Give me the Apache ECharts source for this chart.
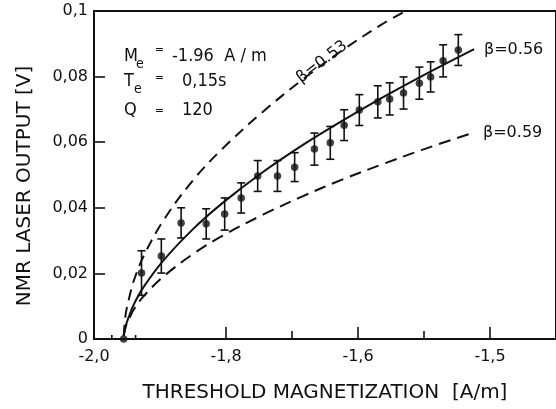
<!DOCTYPE html>
<html><head><meta charset="utf-8">
<script src="https://cdn.jsdelivr.net/npm/echarts@6/dist/echarts.min.js"></script>
<style>html,body{margin:0;padding:0;background:#fff}#c{width:556px;height:409px}</style>
</head><body><div id="c"></div>
<script>
// ---- measured data (threshold magnetization [A/m], NMR laser output [V]) ----
const magnetization = [-1.955,-1.928,-1.898,-1.868,-1.830,-1.802,-1.777,-1.752,-1.722,-1.696,-1.666,-1.642,-1.621,-1.598,-1.570,-1.552,-1.531,-1.507,-1.490,-1.471,-1.448];
const laserOutput   = [0.0000,0.0201,0.0253,0.0354,0.0351,0.0381,0.0430,0.0497,0.0497,0.0524,0.0579,0.0598,0.0652,0.0698,0.0723,0.0732,0.0750,0.0780,0.0799,0.0848,0.0881];
const outputErr     = [0,0.0068,0.0052,0.0046,0.0046,0.0049,0.0046,0.0047,0.0047,0.0044,0.0049,0.0050,0.0047,0.0047,0.0049,0.0049,0.0049,0.0049,0.0046,0.0049,0.0047];
const magnetizationErr = [0.018,0,0,0,0,0,0,0,0,0,0,0,0,0,0,0,0,0,0,0,0];

// ---- curves ----
const fitM    = [-1.955,-1.952,-1.947,-1.940,-1.925,-1.895,-1.850,-1.805,-1.744,-1.684,-1.624,-1.564,-1.504,-1.424];
const fit056  = [0.001,0.0040,0.0069,0.0104,0.0158,0.0239,0.0335,0.0415,0.0509,0.0591,0.0665,0.0735,0.0801,0.0884];
const upperM  = [-1.955,-1.952,-1.947,-1.940,-1.925,-1.895,-1.850,-1.805,-1.744,-1.684,-1.624,-1.564,-1.528];
const upper053= [0.001,0.0076,0.0123,0.0176,0.0252,0.0361,0.0484,0.0581,0.0693,0.0791,0.0880,0.0959,0.1000];
const lowerM  = [-1.955,-1.952,-1.947,-1.940,-1.925,-1.895,-1.850,-1.805,-1.744,-1.684,-1.624,-1.564,-1.504,-1.427];
const lower059= [0.001,0.0037,0.0060,0.0089,0.0130,0.0190,0.0259,0.0315,0.0379,0.0435,0.0486,0.0532,0.0576,0.0628];

// ---- ticks ----
const xLabelValues = [-2.0,-1.8,-1.6,-1.4];
const xLabels      = ['-2,0','-1,8','-1,6','-1,5'];
const xMajorTicks  = [-1.8,-1.6,-1.4];
const xMinorTicks  = [-1.7,-1.5];
const yLabelValues = [0,0.02,0.04,0.06,0.08,0.1];
const yLabels      = ['0','0,02','0,04','0,06','0,08','0,1'];
const yTicks       = [0.02,0.04,0.06,0.08];

const INK = '#111';
const TICKFONT = 'DejaVu Sans';
const NARROW = '"Liberation Sans Narrow","DejaVu Sans Condensed","DejaVu Sans",sans-serif';
const pick = (vals, labs) => v => { const i = vals.findIndex(t => Math.abs(t - v) < 1e-6); return i < 0 ? '' : labs[i]; };

const zip = (a, b) => a.map((v, i) => [v, b[i]]);
const errData = magnetization.map((m, i) => [m, laserOutput[i], outputErr[i], magnetizationErr[i]]);

function renderErr(params, api) {
  const x = api.value(0), y = api.value(1), e = api.value(2), xe = api.value(3);
  const st = { stroke: INK, lineWidth: 1.6, fill: null };
  const ch = [];
  if (e > 0) {
    const t = api.coord([x, y + e]), b = api.coord([x, y - e]);
    ch.push({ type: 'line', shape: { x1: t[0], y1: t[1], x2: b[0], y2: b[1] }, style: st });
    ch.push({ type: 'line', shape: { x1: t[0] - 4, y1: t[1], x2: t[0] + 4, y2: t[1] }, style: st });
    ch.push({ type: 'line', shape: { x1: b[0] - 4, y1: b[1], x2: b[0] + 4, y2: b[1] }, style: st });
  }
  if (xe > 0) {
    const l = api.coord([x - xe, y]), r = api.coord([x + xe, y]);
    ch.push({ type: 'line', shape: { x1: l[0], y1: l[1], x2: r[0], y2: r[1] }, style: st });
    ch.push({ type: 'line', shape: { x1: l[0], y1: l[1] - 4, x2: l[0], y2: l[1] + 1 }, style: st });
    ch.push({ type: 'line', shape: { x1: r[0], y1: r[1] - 4, x2: r[0], y2: r[1] + 1 }, style: st });
  }
  return { type: 'group', children: ch };
}

function txt(text, x, y, size, family, opts) {
  return Object.assign({
    type: 'text', x: x, y: y, silent: true,
    style: { text: text, fontSize: size, fontFamily: family, fill: INK,
             align: (opts && opts.align) || 'left', verticalAlign: 'middle' }
  }, opts && opts.rotation !== undefined ? { rotation: opts.rotation } : {});
}

const chart = echarts.init(document.getElementById('c'), null, { renderer: 'canvas' });
chart.setOption({
  animation: false,
  backgroundColor: '#fff',
  grid: { left: 94, top: 11, width: 466, height: 328, show: true, borderColor: INK, borderWidth: 2, backgroundColor: 'transparent' },
  xAxis: [{
    type: 'value', min: -2.0, max: -1.3, interval: 0.1,
    axisLine: { show: true, onZero: false, lineStyle: { color: INK, width: 2 } },
    splitLine: { show: false },
    axisTick: { show: true, inside: true, length: 12, customValues: xMajorTicks, lineStyle: { color: INK, width: 1.6 } },
    axisLabel: { show: true, customValues: xLabelValues, formatter: pick(xLabelValues, xLabels), color: INK, fontFamily: TICKFONT, fontSize: 16, margin: 10 }
  }, {
    type: 'value', min: -2.0, max: -1.3, interval: 0.1, position: 'bottom',
    axisLine: { show: false }, splitLine: { show: false }, axisLabel: { show: false },
    axisTick: { show: true, inside: true, length: 8, customValues: xMinorTicks, lineStyle: { color: INK, width: 1.6 } }
  }],
  yAxis: {
    type: 'value', min: 0, max: 0.1, interval: 0.02,
    axisLine: { show: true, onZero: false, lineStyle: { color: INK, width: 2 } },
    splitLine: { show: false },
    axisTick: { show: true, inside: true, length: 11, customValues: yTicks, lineStyle: { color: INK, width: 1.6 } },
    axisLabel: { show: true, customValues: yLabelValues, formatter: pick(yLabelValues, yLabels), color: INK, fontFamily: TICKFONT, fontSize: 16, margin: 6 }
  },
  series: [
    { type: 'line', data: zip(fitM, fit056), smooth: 0.35, showSymbol: false, lineStyle: { color: INK, width: 2 }, z: 3 },
    { type: 'line', data: zip(upperM, upper053), smooth: 0.35, showSymbol: false, lineStyle: { color: INK, width: 2, type: [11, 7] }, z: 3 },
    { type: 'line', data: zip(lowerM, lower059), smooth: 0.35, showSymbol: false, lineStyle: { color: INK, width: 2, type: [12, 7] }, z: 3 },
    { type: 'custom', data: errData, renderItem: renderErr, encode: { x: 0, y: 1 }, z: 4 },
    { type: 'scatter', data: zip(magnetization, laserOutput), symbol: 'circle', symbolSize: 7.5, itemStyle: { color: INK }, z: 5 }
  ],
  graphic: [
    txt('M', 124, 56, 18, NARROW),
    txt('e', 136, 64, 14, NARROW),
    txt('=', 155, 50, 12, NARROW),
    txt('-1.96  A / m', 172, 56, 18, NARROW),
    txt('T', 124, 81, 18, NARROW),
    txt('e', 134, 89, 14, NARROW),
    txt('=', 155, 78, 12, NARROW),
    txt('0,15s', 182, 81, 18, NARROW),
    txt('Q', 124, 110, 18, NARROW),
    txt('=', 155, 111, 12, NARROW),
    txt('120', 182, 110, 18, NARROW),
    txt('β=0.53', 322, 62, 16, TICKFONT, { align: 'center', rotation: 37.5 * Math.PI / 180 }),
    txt('β=0.56', 484, 50, 16, TICKFONT),
    txt('β=0.59', 483, 133, 16, TICKFONT),
    txt('NMR LASER OUTPUT [V]', 25, 186, 20, TICKFONT, { align: 'center', rotation: Math.PI / 2 }),
    txt('THRESHOLD MAGNETIZATION  [A/m]', 325, 393, 20, TICKFONT, { align: 'center' })
  ]
});
</script></body></html>
